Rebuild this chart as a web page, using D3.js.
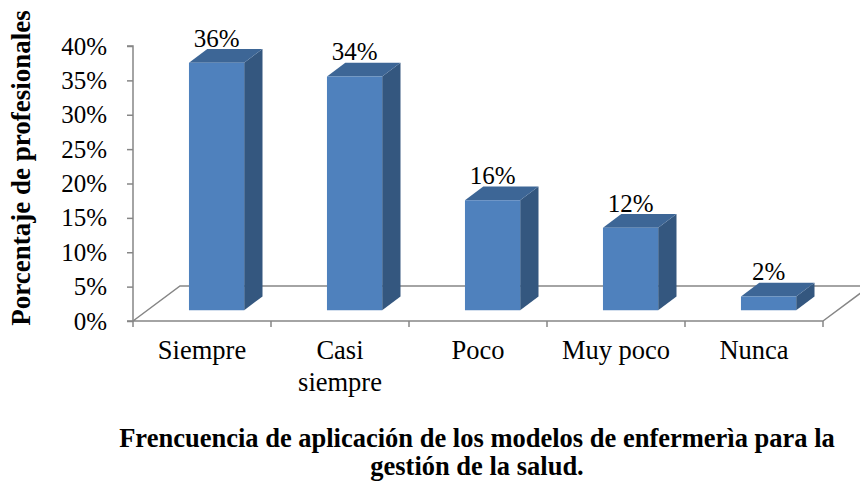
<!DOCTYPE html>
<html>
<head>
<meta charset="utf-8">
<script src="https://cdn.jsdelivr.net/npm/d3@7"></script>
<style>
  html, body { margin: 0; padding: 0; background: #fff; }
  svg, svg text { font-family: "Liberation Serif", "Times New Roman", "DejaVu Serif", serif; }
</style>
</head>
<body>
<svg id="chart" width="860" height="482"></svg>
<script>
const categories = ['Siempre', 'Casi siempre', 'Poco', 'Muy poco', 'Nunca'];
const catLines = [['Siempre'], ['Casi', 'siempre'], ['Poco'], ['Muy poco'], ['Nunca']];
const values = [0.36, 0.34, 0.16, 0.12, 0.02];
const yTicks = [0, 0.05, 0.10, 0.15, 0.20, 0.25, 0.30, 0.35, 0.40];
const yTitle = 'Porcentaje de profesionales';
const titleLines = ['Frencuencia de aplicación de los modelos de enfermerìa para la', 'gestión de la salud.'];

const svg = d3.select('#chart');

// 3d depth of the floor
const DX = 47, DY = -35;
const f1 = 0.31, f2 = 0.70;
const P = (x, y, f) => [x + f * DX, y + f * DY];

const x = d3.scaleBand()
    .domain(categories)
    .range([133, 823])
    .padding(0);

const y = d3.scaleLinear()
    .domain([0, 0.4])
    .range([321, 46]);

const axisColor = '#868686';

// floor
const fl = [P(133, y(0), 0), P(133, y(0), 1), P(823, y(0), 1), P(823, y(0), 0)];
svg.append('path')
    .attr('d', `M${fl[0]}L${fl[1]}L${[fl[2][0] + 60, fl[2][1]]}M${fl[3]}L${[fl[3][0] + 60, fl[3][1] - 60 * 35 / 47]}M${fl[3]}L${fl[0]}`)
    .attr('fill', 'none')
    .attr('stroke', axisColor)
    .attr('stroke-width', 1.5);

// category ticks
svg.append('g')
    .selectAll('line')
    .data(categories.concat(['_end']))
    .join('line')
    .attr('x1', (d, i) => 133 + i * x.bandwidth())
    .attr('x2', (d, i) => 133 + i * x.bandwidth())
    .attr('y1', y(0))
    .attr('y2', y(0) + 6)
    .attr('stroke', axisColor)
    .attr('stroke-width', 1.5);

// y axis
const yAxis = svg.append('g')
    .attr('transform', 'translate(133,0)')
    .call(d3.axisLeft(y).tickValues(yTicks).tickFormat(d3.format('.0%')).tickSize(6).tickPadding(20))
    .attr('font-family', null)
    .attr('font-size', 25);
yAxis.select('.domain').attr('stroke', axisColor).attr('stroke-width', 1.5).attr('d', `M-6,${y(0.4)}H0V${y(0)}H-6`);
yAxis.selectAll('.tick line').attr('stroke', axisColor).attr('stroke-width', 1.5);
yAxis.selectAll('.tick text').attr('fill', '#000');

// bars
const bars = svg.append('g')
    .selectAll('g')
    .data(values.map((v, i) => ({ v, c: categories[i] })))
    .join('g');

const poly = pts => 'M' + pts.map(p => p.join(',')).join('L') + 'Z';
const xa = d => x(d.c) + x.bandwidth() * 0.3;
const xb = d => x(d.c) + x.bandwidth() * 0.7;

bars.append('path')
    .attr('d', d => poly([P(xb(d), y(0), f1), P(xb(d), y(0), f2), P(xb(d), y(d.v), f2), P(xb(d), y(d.v), f1)]))
    .attr('fill', '#34577f');
bars.append('path')
    .attr('d', d => poly([P(xa(d), y(d.v), f1), P(xb(d), y(d.v), f1), P(xb(d), y(d.v), f2), P(xa(d), y(d.v), f2)]))
    .attr('fill', '#3d6696');
bars.append('path')
    .attr('d', d => poly([P(xa(d), y(0), f1), P(xb(d), y(0), f1), P(xb(d), y(d.v), f1), P(xa(d), y(d.v), f1)]))
    .attr('fill', '#4f81bd');

bars.append('text')
    .attr('x', d => P((xa(d) + xb(d)) / 2, 0, f1)[0])
    .attr('y', d => P(0, y(d.v), f1)[1] - 16)
    .attr('text-anchor', 'middle')
    .attr('font-size', 25)
    .text(d => d3.format('.0%')(d.v));

// category labels
svg.append('g')
    .selectAll('text')
    .data(catLines)
    .join('text')
    .attr('text-anchor', 'middle')
    .attr('font-size', 26.5)
    .attr('transform', (d, i) => `translate(${x(categories[i]) + x.bandwidth() / 2},359)`)
    .selectAll('tspan')
    .data(d => d)
    .join('tspan')
    .attr('x', 0)
    .attr('y', (d, i) => i * 32)
    .text(d => d);

// y title
svg.append('text')
    .attr('transform', 'translate(30,168) rotate(-90)')
    .attr('text-anchor', 'middle')
    .attr('font-weight', 'bold')
    .attr('font-size', 27)
    .text(yTitle);

// bottom title
svg.append('g')
    .selectAll('text')
    .data(titleLines)
    .join('text')
    .attr('x', 477)
    .attr('y', (d, i) => 447 + i * 28)
    .attr('text-anchor', 'middle')
    .attr('font-weight', 'bold')
    .attr('font-size', 26.5)
    .text(d => d);
</script>
</body>
</html>
